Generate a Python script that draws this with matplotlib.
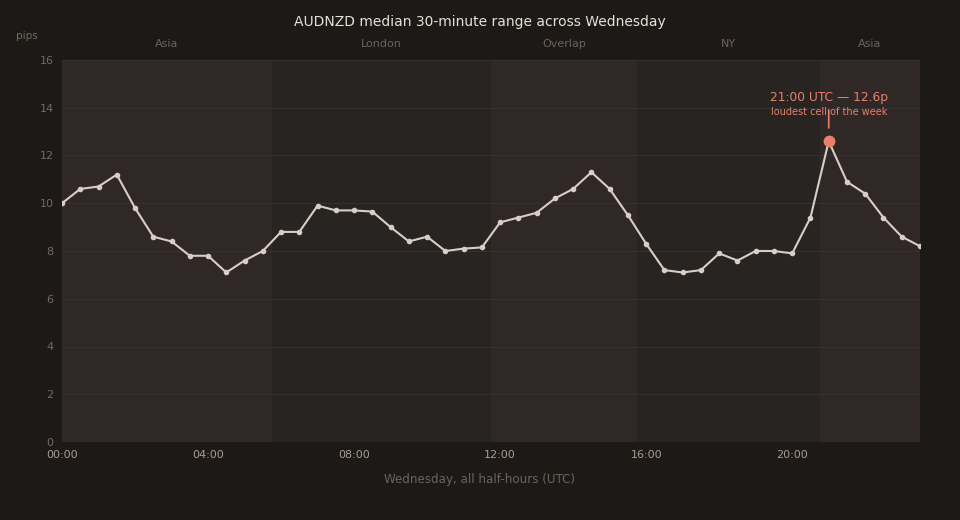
import matplotlib
matplotlib.use("Agg")
import matplotlib.pyplot as plt
import matplotlib.transforms as mtransforms

# ---- data ----
hours = [i * 0.5 for i in range(48)]
pips = [10.0, 10.6, 10.7, 11.2, 9.8, 8.6, 8.4, 7.8, 7.8, 7.1, 7.6, 8.0,
        8.8, 8.8, 9.9, 9.7, 9.7, 9.65, 9.0, 8.4, 8.6, 8.0, 8.1, 8.15,
        9.2, 9.4, 9.6, 10.2, 10.6, 11.3, 10.6, 9.5, 8.3, 7.2, 7.1, 7.2,
        7.9, 7.6, 8.0, 8.0, 7.9, 9.4, 12.6, 10.9, 10.4, 9.4, 8.6, 8.2]
sessions = ["Asia", "London", "Overlap", "NY", "Asia"]
session_start = [0.0, 5.75, 11.75, 15.75, 20.75]
session_end = [5.75, 11.75, 15.75, 20.75, 23.5]
xtick_pos = [0, 4, 8, 12, 16, 20]
xtick_labels = ["00:00", "04:00", "08:00", "12:00", "16:00", "20:00"]
peak_label = "21:00 UTC — 12.6p"
peak_note = "loudest cell of the week"

# ---- style ----
BG = "#1d1916"
WARM = "#2f2826"
COOL = "#282421"
LINE = "#d8cec6"
ACCENT = "#e8806c"

fig = plt.figure(figsize=(9.6, 5.2), dpi=100, facecolor=BG)
ax = fig.add_axes([62/960, 1-442/520, (920-62)/960, (442-60)/520])
ax.set_facecolor(COOL)

trans = mtransforms.blended_transform_factory(ax.transData, ax.transAxes)
for s, a, b in zip(sessions, session_start, session_end):
    ax.axvspan(a, b, color=WARM if s in ("Asia", "Overlap") else COOL, lw=0, zorder=0)
    ax.text((a + b) / 2, 1.042, s, transform=trans, ha="center", va="center",
            fontsize=8, color="#6c635d")

ax.set_xlim(0, 23.5)
ax.set_ylim(0, 16)
ax.set_yticks(range(0, 17, 2))
ax.set_xticks(xtick_pos)
ax.set_xticklabels(xtick_labels)
ax.grid(axis="y", color="#363030", lw=0.8, zorder=1)
ax.grid(axis="x", visible=False)
for sp in ax.spines.values():
    sp.set_visible(False)
ax.tick_params(axis="x", length=0, pad=6, labelsize=8, labelcolor="#a89e95")
ax.tick_params(axis="y", length=0, pad=6, labelsize=8, labelcolor="#736a63")

ax.plot(hours, pips, color=LINE, lw=1.5, marker="o", ms=3, zorder=3)

pk = max(range(len(pips)), key=lambda i: pips[i])
px, py = hours[pk], pips[pk]
ax.plot([px], [py], "o", color=ACCENT, ms=7.5, zorder=4)
ax.annotate("", xy=(px, py), xytext=(0, 22.5), textcoords="offset points",
            arrowprops=dict(arrowstyle="-", color=ACCENT, lw=1.2, shrinkA=0, shrinkB=9.5))
ax.annotate(peak_label, xy=(px, py), xytext=(0, 31.5), textcoords="offset points",
            ha="center", va="center", fontsize=8.8, color=ACCENT)
ax.annotate(peak_note, xy=(px, py), xytext=(0, 21), textcoords="offset points",
            ha="center", va="center", fontsize=7, color=ACCENT)

fig.text(0.5, 1-22/520, "AUDNZD median 30-minute range across Wednesday",
         ha="center", va="center", fontsize=10, color="#e6e0da")
fig.text(27/960, 1-36/520, "pips", ha="center", va="center", fontsize=7.5, color="#736a63")
fig.text(0.5, 1-480/520, "Wednesday, all half-hours (UTC)",
         ha="center", va="center", fontsize=8.6, color="#6c635d")

fig.savefig("out.png", dpi=100, facecolor=BG)
